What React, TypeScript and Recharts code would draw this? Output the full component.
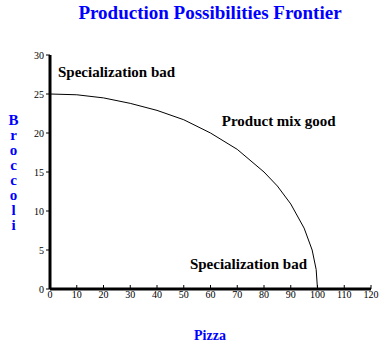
import { LineChart, Line, XAxis, YAxis, ReferenceDot } from 'recharts';

// quantity of pizza produced
const pizza = [0, 10, 20, 30, 40, 50, 60, 70, 80, 85, 90, 95, 98, 99.5, 100];
// matching broccoli on the frontier
const broccoli = [25, 24.9, 24.5, 23.8, 22.9, 21.7, 20, 17.9, 15, 13.2, 10.9, 7.8, 5, 2.5, 0];

const xTicks = [0, 10, 20, 30, 40, 50, 60, 70, 80, 90, 100, 110, 120];
const yTicks = [0, 5, 10, 15, 20, 25, 30];

const notes = [
  { x: 3, y: 27.9, text: 'Specialization bad' },
  { x: 64.2, y: 21.6, text: 'Product mix good' },
  { x: 52.3, y: 3.3, text: 'Specialization bad' },
];

const yLetters = ['B', 'r', 'o', 'c', 'c', 'o', 'l', 'i'];

const data = pizza.map((p, i) => ({ pizza: p, broccoli: broccoli[i] }));

const serif = '"Liberation Serif", "Times New Roman", serif';
const blue = '#0000FF';

const App = () => {
  const tickStyle = { fill: '#000', fontSize: 10, fontFamily: serif };

  return (
    <div style={{ position: 'absolute', left: 0, top: 0, width: 384, height: 351, background: '#fff' }}>
      <div
        style={{
          position: 'absolute', top: 3, left: 50, width: 320, textAlign: 'center',
          color: blue, fontFamily: serif, fontWeight: 'bold', fontSize: 19, lineHeight: '19px',
          whiteSpace: 'nowrap',
        }}
      >
        Production Possibilities Frontier
      </div>

      <div style={{ position: 'absolute', top: 113, left: 0, width: 27 }}>
        {yLetters.map((ch, i) => (
          <div
            key={i}
            style={{
              textAlign: 'center', color: blue, fontFamily: serif, fontWeight: 'bold',
              fontSize: 15, lineHeight: '15px', height: 15,
            }}
          >
            {ch}
          </div>
        ))}
      </div>

      <div
        style={{
          position: 'absolute', top: 329, left: 160, width: 100, textAlign: 'center',
          color: blue, fontFamily: serif, fontWeight: 'bold', fontSize: 14, lineHeight: '14px',
        }}
      >
        Pizza
      </div>

      <LineChart
        width={384}
        height={351}
        data={data}
        margin={{ top: 55, right: 13, left: 0, bottom: 32 }}
        style={{ position: 'absolute', left: 0, top: 0 }}
      >
        <XAxis
          dataKey="pizza"
          type="number"
          domain={[0, 120]}
          ticks={xTicks}
          interval={0}
          height={30}
          tick={tickStyle}
          tickSize={-4}
          tickMargin={6}
          axisLine={{ stroke: '#000', strokeWidth: 3 }}
          tickLine={{ stroke: '#000' }}
        />
        <YAxis
          type="number"
          domain={[0, 30]}
          ticks={yTicks}
          interval={0}
          width={50}
          tick={tickStyle}
          tickSize={4}
          tickMargin={2}
          axisLine={{ stroke: '#000', strokeWidth: 3 }}
          tickLine={{ stroke: '#000' }}
        />
        <Line
          dataKey="broccoli"
          type="linear"
          stroke="#000"
          strokeWidth={1}
          dot={false}
          activeDot={false}
          isAnimationActive={false}
        />
        {notes.map((n, i) => (
          <ReferenceDot
            key={i}
            x={n.x}
            y={n.y}
            r={0}
            fill="none"
            stroke="none"
            label={{
              value: n.text,
              position: 'right',
              offset: 0,
              fill: '#000',
              fontSize: 15,
              fontWeight: 'bold',
              fontFamily: serif,
            }}
          />
        ))}
      </LineChart>
    </div>
  );
};

export default App;
